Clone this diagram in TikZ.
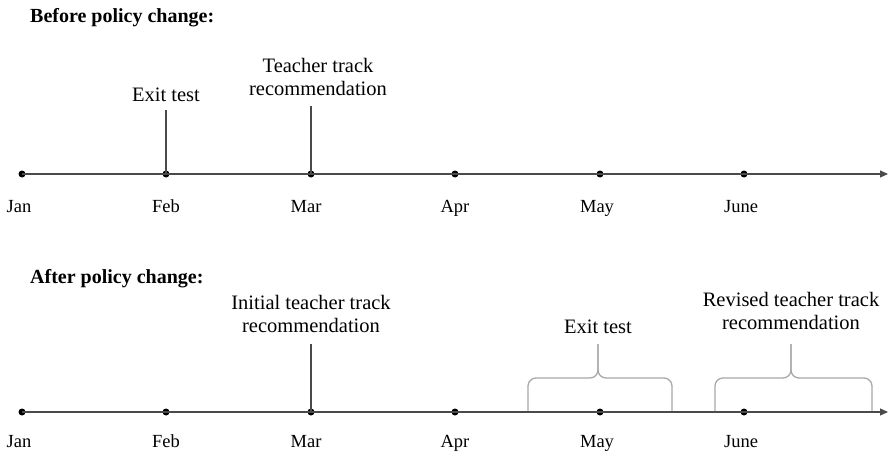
\documentclass[tikz,border=0pt]{standalone}
\usepackage{fontspec}
\setmainfont{Liberation Serif}
\usetikzlibrary{arrows.meta}
\definecolor{axisc}{HTML}{4A4A4A}
\definecolor{bracec}{HTML}{A8A8A8}
\begin{document}
\begin{tikzpicture}[x=1pt,y=-1pt,
  axis/.style={draw=axisc,line width=1.1pt,-{Triangle[length=8pt,width=7pt]}},
  dot/.style={circle,fill=black,inner sep=0pt,minimum size=7pt},
  month/.style={font=\fontsize{18.5}{20}\selectfont,inner sep=0pt,anchor=base},
  lab/.style={font=\fontsize{20.5}{23}\selectfont,align=center,inner sep=0pt},
  ttl/.style={font=\fontsize{20}{22}\selectfont\bfseries,anchor=base west,inner sep=0pt},
  stem/.style={draw=axisc,line width=1.1pt},
  brc/.style={draw=bracec,line width=1.3pt,rounded corners=8pt}]
\useasboundingbox (0,0) rectangle (888,455);
% ---------- before ----------
\node[ttl] (t1) at (30,23) {Before policy change:};
\foreach \n/\x/\m/\mx in {a/22/Jan/19,b/166/Feb/166,c/311/Mar/306,d/455/Apr/455,e/600/May/597,f/744/June/741}{
  \node[dot] (u\n) at (\x,174) {};
  \node[month] (um\n) at (\mx,212) {\m};
}
\coordinate (uend) at (888,174);
\draw[axis] (ua.center) -- (uend);
\node[lab] (uexit) at (166,95) {Exit test};
\node[lab] (uteach) at (318,77) {Teacher track\\recommendation};
\coordinate (uexittop) at (166,110);
\coordinate (uteachtop) at (311,106);
\draw[stem] (uexittop) -- (ub.center);
\draw[stem] (uteachtop) -- (uc.center);
% ---------- after ----------
\node[ttl] (t2) at (30,283) {After policy change:};
\foreach \n/\x/\m/\mx in {a/22/Jan/19,b/166/Feb/166,c/311/Mar/306,d/455/Apr/455,e/600/May/597,f/744/June/741}{
  \node[dot] (l\n) at (\x,412) {};
  \node[month] (lm\n) at (\mx,447) {\m};
}
\coordinate (lend) at (888,412);
\draw[axis] (la.center) -- (lend);
\node[lab] (linit) at (311,314) {Initial teacher track\\recommendation};
\coordinate (linittop) at (311,344);
\draw[stem] (linittop) -- (lc.center);
\node[lab] (lexit) at (598,327) {Exit test};
\node[lab] (lrev) at (791,311) {Revised teacher track\\recommendation};
% braces
\coordinate (b1l) at (528,411);
\coordinate (b1r) at (672,411);
\coordinate (b1t) at (598,344);
\draw[brc] (b1l) -- (528,378) -- (598,378) -- (b1t);
\draw[brc] (b1t) -- (598,378) -- (672,378) -- (b1r);
\coordinate (b2l) at (715,411);
\coordinate (b2r) at (872,411);
\coordinate (b2t) at (791,344);
\draw[brc] (b2l) -- (715,378) -- (791,378) -- (b2t);
\draw[brc] (b2t) -- (791,378) -- (872,378) -- (b2r);
\end{tikzpicture}
\end{document}
